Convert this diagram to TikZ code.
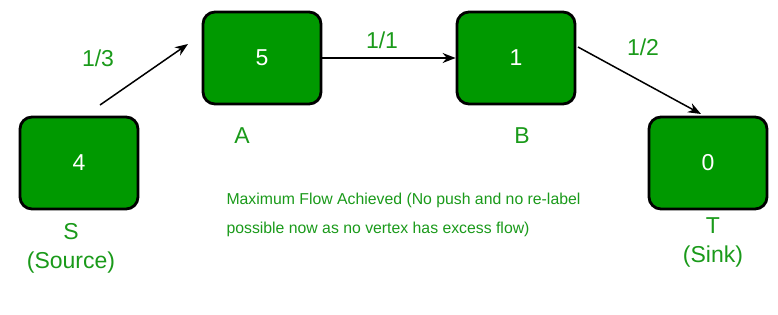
\documentclass[tikz,border=0pt]{standalone}
\usepackage{fontspec}
\setmainfont{Liberation Sans}
\usetikzlibrary{arrows.meta}
\definecolor{boxgreen}{HTML}{009900}
\definecolor{txtgreen}{HTML}{1A9A1A}
\begin{document}
\begin{tikzpicture}[x=1pt, y=-1pt,
    vbox/.style={draw=black, line width=2.8pt, fill=boxgreen, rounded corners=12pt,
        minimum width=118pt, minimum height=92pt, inner sep=0pt, text=white,
        font=\fontsize{23}{28}\selectfont},
    lbl/.style={text=txtgreen, font=\fontsize{23}{29}\selectfont, align=center},
    flow/.style={-{Stealth[length=13pt,width=10pt]}, line width=1.5pt}]
    % 画布大小
    \useasboundingbox (0,0) rectangle (778,314);

    % 顶点
    \node[vbox] (S) at (79,163) {4};
    \node[vbox] (A) at (262,58) {5};
    \node[vbox] (B) at (516,58) {1};
    \node[vbox] (T) at (708,163) {0};

    % 顶点标签
    \node[lbl] (Slbl) at (71,248) {S\\(Source)};
    \node[lbl] (Albl) at (242,136) {A};
    \node[lbl] (Blbl) at (522,136) {B};
    \node[lbl] (Tlbl) at (713,242) {T\\(Sink)};

    % 边（S->A 与 B->T 两端不贴框）
    \coordinate (sa) at (100,105);
    \coordinate (as) at (188,44);
    \coordinate (bt) at (578,47);
    \coordinate (tb) at (701,114);
    \draw[flow] (sa) -- (as);
    \draw[flow] (A) -- (B);
    \draw[flow] (bt) -- (tb);

    % 流量标注
    \node[lbl] (fsa) at (98,58) {1/3};
    \node[lbl] (fab) at (382,40) {1/1};
    \node[lbl] (fbt) at (643,47) {1/2};

    % 说明文字
    \node[text=txtgreen, font=\fontsize{15.8}{29}\selectfont, align=left, anchor=north west]
        (note) at (223,190) {Maximum Flow Achieved (No push and no re-label\\possible now as no vertex has excess flow)};
\end{tikzpicture}
\end{document}
